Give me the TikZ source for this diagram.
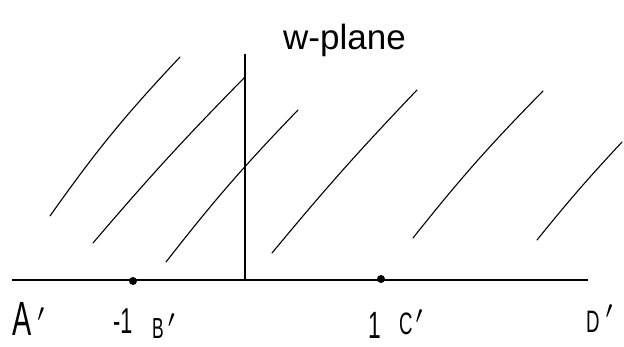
\documentclass[tikz,border=0pt]{standalone}
\usepackage{fontspec}
\setmainfont{Liberation Sans}
\newfontfamily\hand[FakeStretch=0.6]{Liberation Sans}
\newcommand{\pr}[3]{\kern#1\raisebox{#2}{\fontsize{#3}{#3}\selectfont$\prime$}}
\begin{document}
\begin{tikzpicture}[x=1pt,y=-1pt,
  hatch/.style={line width=1.1pt, line cap=round},
  axisline/.style={line width=1.3pt},
  lbl/.style={inner sep=0pt, anchor=base west},
  dotpt/.style={circle, fill=black, inner sep=0pt, minimum size=8pt}]
\useasboundingbox (0,0) rectangle (624,347);
% axes
\coordinate (axL) at (12,280);
\coordinate (axR) at (588,280);
\draw[axisline] (axL) -- (axR);
\coordinate (vB) at (245,280);
\coordinate (vT) at (245,54);
\draw[line width=2pt] (vB) -- (vT);
% hatching
\coordinate (h1a) at (50,216);  \coordinate (h1b) at (180,57);
\coordinate (h2a) at (93,243);  \coordinate (h2b) at (245,77);
\coordinate (h3a) at (166,262); \coordinate (h3b) at (298,110);
\coordinate (h4a) at (272,253); \coordinate (h4b) at (417,90);
\coordinate (h5a) at (413,238); \coordinate (h5b) at (543,91);
\coordinate (h6a) at (537,240); \coordinate (h6b) at (622,142);
\draw[hatch] (h1a) to[bend left=4] (h1b);
\draw[hatch] (h2a) to[bend left=2] (h2b);
\draw[hatch] (h3a) to[bend left=3] (h3b);
\draw[hatch] (h4a) to[bend left=2] (h4b);
\draw[hatch] (h5a) to[bend left=3] (h5b);
\draw[hatch] (h6a) to[bend left=2] (h6b);
% points
\node[dotpt] (m1) at (133,281) {};
\node[dotpt] (p1) at (381,279) {};
% labels
\node[lbl, font=\fontsize{35}{35}\selectfont] (title) at (283,50) {w-plane};
\node[lbl, font=\fontsize{48}{48}\hand] (A) at (12,336) {A\pr{6pt}{14pt}{46}};
\node[lbl, font=\fontsize{36}{36}\hand] (mone) at (113,334) {-1};
\node[lbl, font=\fontsize{29}{29}\hand] (B) at (152,338) {B\pr{4pt}{10pt}{40}};
\node[lbl, font=\fontsize{38}{38}\hand] (one) at (368,339) {1};
\node[lbl, font=\fontsize{31}{31}\hand] (C) at (399,335) {C\pr{3pt}{12pt}{46}};
\node[lbl, font=\fontsize{31}{31}\hand] (D) at (586,333) {D\pr{6pt}{14pt}{40}};
\end{tikzpicture}
\end{document}
